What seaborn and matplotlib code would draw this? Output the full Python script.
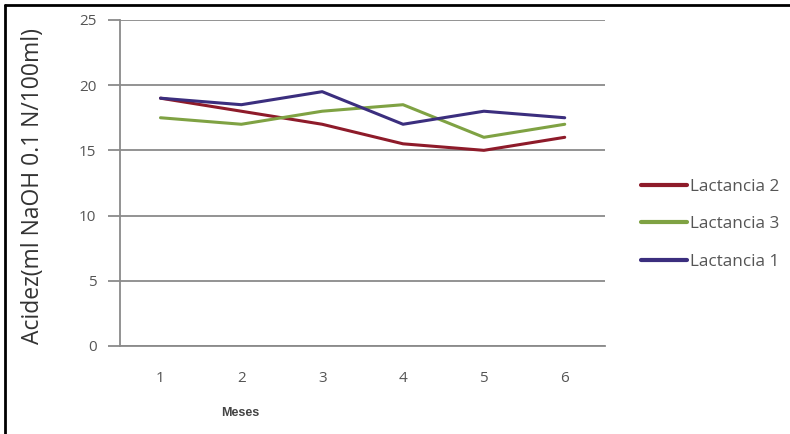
import matplotlib
matplotlib.use("Agg")
import matplotlib.pyplot as plt
import seaborn as sns
import pandas as pd
from matplotlib.lines import Line2D

meses = [1, 2, 3, 4, 5, 6]
lactancia_1 = [19.0, 18.5, 19.5, 17.0, 18.0, 17.5]
lactancia_2 = [19.0, 18.0, 17.0, 15.5, 15.0, 16.0]
lactancia_3 = [17.5, 17.0, 18.0, 18.5, 16.0, 17.0]
y_ticks = [0, 5, 10, 15, 20, 25]

series_names = ["Lactancia 2", "Lactancia 3", "Lactancia 1"]
series_values = [lactancia_2, lactancia_3, lactancia_1]
colors = {"Lactancia 2": "#8E1B2A", "Lactancia 3": "#7FA243", "Lactancia 1": "#3B2E7E"}

rows = []
for name, vals in zip(series_names, series_values):
    for m, v in zip(meses, vals):
        rows.append({"Meses": m, "Acidez": v, "Serie": name})
df = pd.DataFrame(rows)

sns.set_theme(style="white")
plt.rcParams["font.family"] = ["Open Sans", "DejaVu Sans"]

fig = plt.figure(figsize=(7.9, 4.34), dpi=100)
ax = fig.add_axes([0.152, 0.203, 0.614, 0.751])

for name in series_names:
    sns.lineplot(data=df[df["Serie"] == name], x="Meses", y="Acidez",
                 color=colors[name], linewidth=2.2, ax=ax, legend=False,
                 zorder=3)

ax.set_xlim(0.5, 6.5)
ax.set_ylim(0, 25)
ax.set_yticks(y_ticks)
ax.set_xticks(meses)
ax.set_xticklabels([str(m) for m in meses])
ax.grid(axis="y", color="#8a8a8a", linewidth=1.3)
ax.grid(axis="x", visible=False)
for side in ["top", "right"]:
    ax.spines[side].set_visible(False)
for side in ["left", "bottom"]:
    ax.spines[side].set_color("#8a8a8a")
    ax.spines[side].set_linewidth(1.3)
ax.tick_params(axis="y", which="both", left=True, length=9, width=1.3,
               color="#8a8a8a", labelsize=11, labelcolor="#555555", pad=8)
ax.tick_params(axis="x", bottom=False, labelsize=11, labelcolor="#555555", pad=12)
ax.set_xlabel("")
ax.set_ylabel("")

fig.text(0.042, 0.571, "Acidez(ml NaOH 0.1 N/100ml)", rotation=90,
         ha="center", va="center", fontsize=16.5, color="#333333")
fig.text(0.304, 0.048, "Meses", ha="center", va="center", fontsize=9,
         fontweight="bold", color="#444444", family=["Liberation Sans"])

handles = [Line2D([0], [0], color=colors[n], linewidth=3) for n in series_names]
fig.legend(handles, series_names, loc="center left",
           bbox_to_anchor=(0.796, 0.483), frameon=False, fontsize=12.3,
           handlelength=2.7, handletextpad=0.2, labelspacing=1.25,
           labelcolor="#555555", borderpad=0.2)

# outer frame of the chart area
fig.add_artist(Line2D([0.006, 1.0], [0.989, 0.989], transform=fig.transFigure,
                      color="black", linewidth=2))
fig.add_artist(Line2D([0.006, 0.006], [0.0, 0.989], transform=fig.transFigure,
                      color="black", linewidth=2))

fig.savefig("out.png", dpi=100)
